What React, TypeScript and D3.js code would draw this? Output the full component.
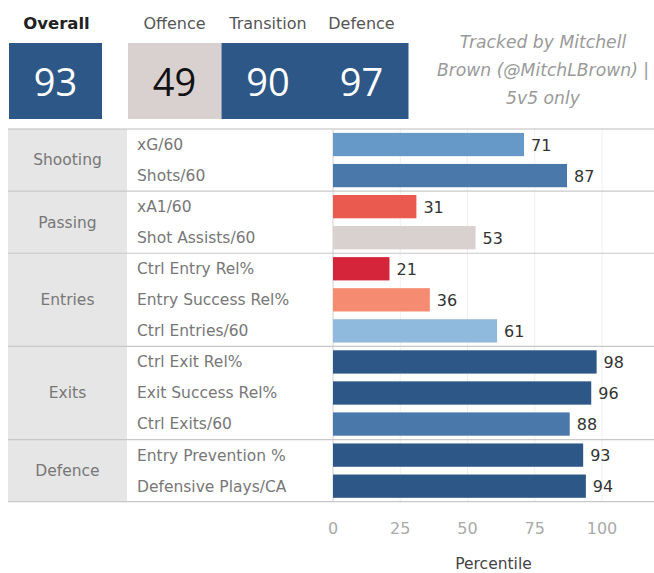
import React from "react";
import * as d3 from "d3";

const summaryLabels = ["Overall", "Offence", "Transition", "Defence"];
const summaryValues = [93, 49, 90, 97];

const groups = ["Shooting", "Passing", "Entries", "Exits", "Defence"];
const metrics = [
  "xG/60", "Shots/60",
  "xA1/60", "Shot Assists/60",
  "Ctrl Entry Rel%", "Entry Success Rel%", "Ctrl Entries/60",
  "Ctrl Exit Rel%", "Exit Success Rel%", "Ctrl Exits/60",
  "Entry Prevention %", "Defensive Plays/CA",
];
const metricGroup = [
  "Shooting", "Shooting",
  "Passing", "Passing",
  "Entries", "Entries", "Entries",
  "Exits", "Exits", "Exits",
  "Defence", "Defence",
];
const values = [71, 87, 31, 53, 21, 36, 61, 98, 96, 88, 93, 94];
const xTicks = [0, 25, 50, 75, 100];
const noteLines = ["Tracked by Mitchell", "Brown (@MitchLBrown) |", "5v5 only"];

const FONT = "'DejaVu Sans', Verdana, sans-serif";
const NUMFONT = "'Open Sans', 'Noto Sans', sans-serif";

const colorScale = d3
  .scaleThreshold<number, string>()
  .domain([25, 33, 45, 58, 66, 80, 90])
  .range(["#d4253a", "#eb5a4f", "#f58b70", "#d9d1cf", "#8fbadd", "#6699c8", "#4a78aa", "#2c5786"]);

export default function App() {
  const W = 654, H = 573;
  const top = 129, bottom = 501.7;
  const left = 8, catRight = 127, paneLeft = 333, right = 654;

  const y = d3.scaleBand<string>().domain(metrics).range([top, bottom]).paddingInner(0.25).paddingOuter(0.125);
  const rowH = (bottom - top) / metrics.length;
  const x = d3.scaleLinear().domain([0, 100]).range([paneLeft, 602]);

  const groupSpans = groups.map((g) => {
    const idx = metrics.map((m, i) => i).filter((i) => metricGroup[i] === g);
    const y0 = top + idx[0] * rowH;
    const y1 = top + (idx[idx.length - 1] + 1) * rowH;
    return { g, y0, y1 };
  });

  const boxX = [9, 128, 221.5, 315];
  const boxW = 93;

  return (
    <svg width={W} height={H} style={{ position: "absolute", left: 0, top: 0, background: "#fff" }} fontFamily={FONT}>
      <rect x={0} y={0} width={W} height={H} fill="#fff" />
      {/* header */}
      {summaryLabels.map((l, i) => (
        <g key={l}>
          <text x={boxX[i] + boxW / 2 + (i === 0 ? 1 : 0)} y={29} textAnchor="middle" fontSize={i === 0 ? 16.5 : 16}
            fontWeight={i === 0 ? 700 : 400} fill={i === 0 ? "#222" : "#555"}>{l}</text>
          <rect x={boxX[i]} y={43} width={boxW + (i === 0 ? 0 : 0.5)} height={76} fill={colorScale(summaryValues[i])} />
          <text x={boxX[i] + boxW / 2} y={96} textAnchor="middle" fontSize={38} fontFamily={NUMFONT}
            fill={summaryValues[i] >= 58 ? "#fff" : "#111"}>{summaryValues[i]}</text>
        </g>
      ))}
      {noteLines.map((t, i) => (
        <text key={t} x={543} y={48 + i * 28} textAnchor="middle" fontSize={17.2} fontStyle="italic" fill="#9a9a9a">{t}</text>
      ))}

      {/* category column */}
      <rect x={left} y={top} width={catRight - left} height={bottom - top} fill="#e6e6e6" />
      {/* gridlines */}
      {xTicks.slice(1).map((t) => (
        <line key={t} x1={x(t)} x2={x(t)} y1={top} y2={bottom} stroke="#efefef" strokeWidth={1} />
      ))}
      <line x1={paneLeft} x2={paneLeft} y1={top} y2={bottom} stroke="#d0d0d0" strokeWidth={1} />
      {/* group separators */}
      {groupSpans.map((s, i) => (
        <g key={s.g}>
          {i === 0 && <line x1={left} x2={right} y1={s.y0} y2={s.y0} stroke="#bdbdbd" strokeWidth={1.2} />}
          <line x1={left} x2={right} y1={s.y1} y2={s.y1} stroke="#c8c8c8" strokeWidth={1.2} />
          <text x={(left + catRight) / 2} y={(s.y0 + s.y1) / 2} dy="0.35em" textAnchor="middle" fontSize={15.5} fill="#777">{s.g}</text>
        </g>
      ))}
      {/* metric labels + bars */}
      {metrics.map((m, i) => (
        <g key={m}>
          <text x={137} y={y(m)! + y.bandwidth() / 2} dy="0.35em" fontSize={15.5} fill="#777">{m}</text>
          <rect x={x(0)} y={y(m)!} width={x(values[i]) - x(0)} height={y.bandwidth()} fill={colorScale(values[i])} />
          <text x={x(values[i]) + 7} y={y(m)! + y.bandwidth() / 2} dy="0.38em" fontSize={16} fill="#333">{values[i]}</text>
        </g>
      ))}
      {/* axis */}
      {xTicks.map((t) => (
        <text key={t} x={x(t)} y={528} dy="0.35em" textAnchor="middle" fontSize={16} fill="#aaa">{t}</text>
      ))}
      <text x={(paneLeft + right) / 2} y={564} dy="0.35em" textAnchor="middle" fontSize={15.5} fill="#444">Percentile</text>
    </svg>
  );
}
